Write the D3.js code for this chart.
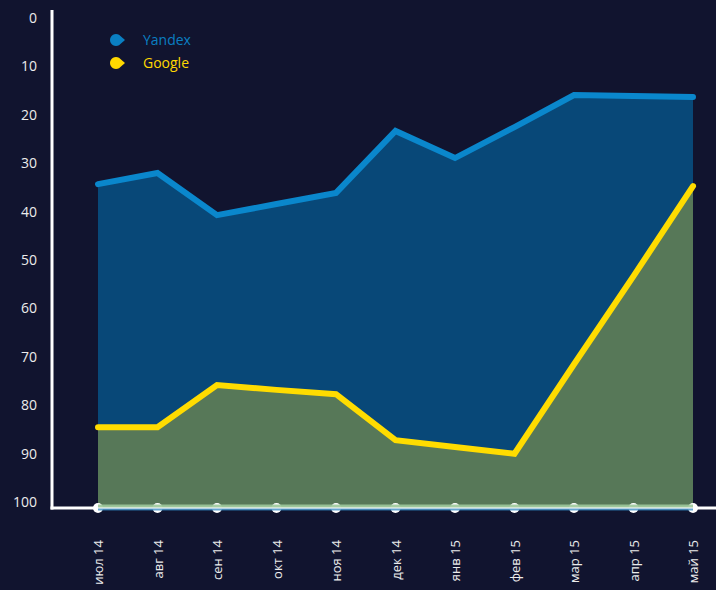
<!DOCTYPE html>
<html>
<head>
<meta charset="utf-8">
<script src="https://cdn.jsdelivr.net/npm/d3@7"></script>
<style>
  html, body { margin: 0; padding: 0; background: #11142f; }
  svg { display: block; font-family: "Open Sans", "Noto Sans", sans-serif; }
</style>
</head>
<body>
<svg id="chart" width="716" height="590"></svg>
<script>
const months = ["июл 14", "авг 14", "сен 14", "окт 14", "ноя 14", "дек 14", "янв 15", "фев 15", "мар 15", "апр 15", "май 15"];
const yandex = [33.3, 31.0, 39.7, 37.4, 35.1, 22.3, 27.9, 21.5, 14.9, 15.1, 15.3];
const google = [83.5, 83.5, 74.8, 75.8, 76.7, 86.2, 87.6, 89.0, 70.5, 52.3, 33.7];
const yTicks = [0, 10, 20, 30, 40, 50, 60, 70, 80, 90, 100];
const series = [
  { name: "Yandex", values: yandex, line: "#0a87cc", fill: "#084878", text: "#0a7fc2" },
  { name: "Google", values: google, line: "#ffdc00", fill: "#577858", text: "#ffd800" }
];

const svg = d3.select("#chart");

const x = d3.scalePoint().domain(months).range([98, 693]);
const y = d3.scaleLinear().domain([0, 100]).range([23, 507]);

// areas go from the line down to 100 (y axis is inverted: rank)
series.forEach(s => {
  const area = d3.area()
    .x((d, i) => x(months[i]))
    .y0(y(100))
    .y1(d => y(d));
  svg.append("path")
    .datum(s.values)
    .attr("d", area)
    .attr("fill", s.fill);
});

series.forEach(s => {
  const line = d3.line()
    .x((d, i) => x(months[i]))
    .y(d => y(d));
  svg.append("path")
    .datum(s.values)
    .attr("d", line)
    .attr("fill", "none")
    .attr("stroke", s.line)
    .attr("stroke-width", 6)
    .attr("stroke-linejoin", "miter")
    .attr("stroke-linecap", "round");
});

// axes lines
svg.append("line")
  .attr("x1", 52).attr("x2", 52)
  .attr("y1", 10).attr("y2", 509.5)
  .attr("stroke", "#fff").attr("stroke-width", 3);
svg.append("line")
  .attr("x1", 50.5).attr("x2", 716)
  .attr("y1", 508).attr("y2", 508)
  .attr("stroke", "#fff").attr("stroke-width", 3);

// tick dots
svg.selectAll("circle.tick")
  .data(months)
  .join("circle")
  .attr("class", "tick")
  .attr("cx", d => x(d))
  .attr("cy", 508)
  .attr("r", 5)
  .attr("fill", "#fff");

svg.append("line")
  .attr("x1", x(months[0])).attr("x2", x(months[months.length - 1]))
  .attr("y1", 509.5).attr("y2", 509.5)
  .attr("stroke", "#2f86c0").attr("stroke-width", 2).attr("opacity", 0.75);
svg.append("line")
  .attr("x1", x(months[0])).attr("x2", x(months[months.length - 1]))
  .attr("y1", 506).attr("y2", 506)
  .attr("stroke", "#9dc89b").attr("stroke-width", 3).attr("opacity", 0.9);

// y labels
svg.selectAll("text.ylab")
  .data(yTicks)
  .join("text")
  .attr("class", "ylab")
  .attr("x", 37)
  .attr("y", d => y(d) - 5)
  .attr("dy", "0.35em")
  .attr("text-anchor", "end")
  .attr("fill", "#ececec")
  .attr("font-size", 14)
  .text(d => d);

// x labels, rotated
svg.selectAll("text.xlab")
  .data(months)
  .join("text")
  .attr("class", "xlab")
  .attr("transform", d => `translate(${x(d) + 5},540) rotate(-90)`)
  .attr("text-anchor", "end")
  .attr("fill", "#ececec")
  .attr("font-size", 13)
  .text(d => d);

// legend
const legend = svg.append("g");
series.forEach((s, i) => {
  const cy = 40 + i * 23, cx = 116;
  legend.append("path")
    .attr("d", `M${cx + 9},${cy} L${cx + 3},${cy - 5.2} A6,6 0 1,0 ${cx + 3},${cy + 5.2} Z`)
    .attr("fill", s.text);
  legend.append("text")
    .attr("x", 143)
    .attr("y", cy)
    .attr("dy", "0.35em")
    .attr("fill", s.text)
    .attr("font-size", 14)
    .text(s.name);
});
</script>
</body>
</html>
